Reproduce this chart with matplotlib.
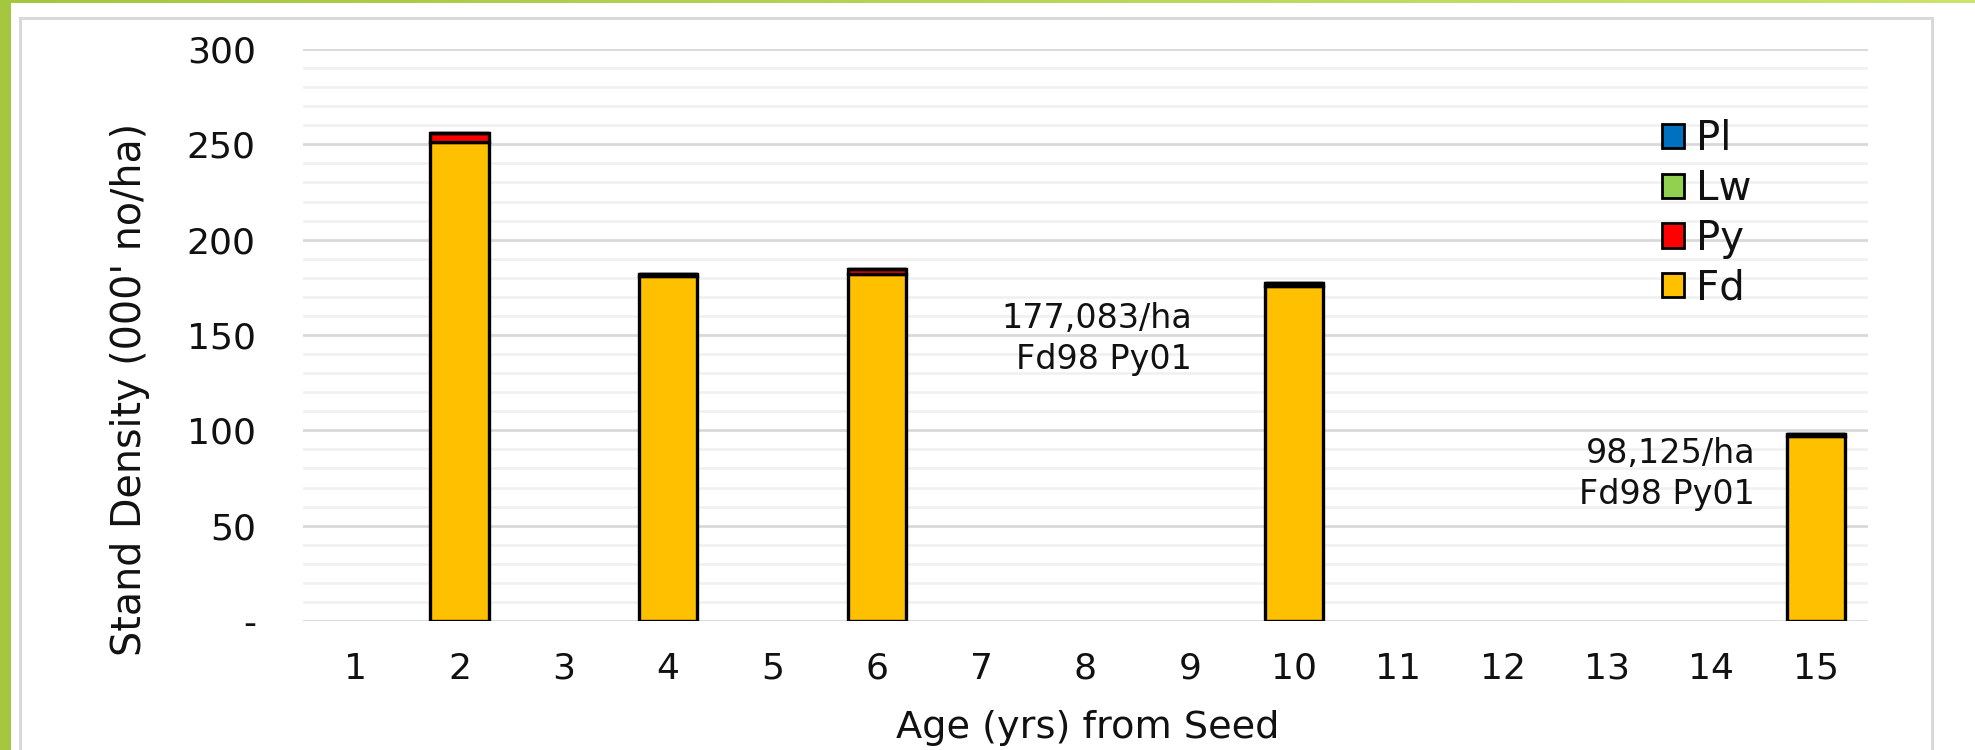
import numpy as np
import matplotlib
matplotlib.use("Agg")
import matplotlib.pyplot as plt
from matplotlib.patches import Rectangle, Patch
from matplotlib.ticker import MultipleLocator

# age classes on the x axis, and the survey years that have counts
ages = list(range(1, 16))
survey_ages = [2, 4, 6, 10, 15]

# stand density by species, thousands of stems per ha
fd = [251.2, 180.8, 182.2, 175.9, 97.1]
py = [4.7, 1.2, 2.5, 1.2, 1.0]
lw = [0, 0, 0, 0, 0]
pl = [0, 0, 0, 0, 0]

species = ["Pl", "Lw", "Py", "Fd"]
colours = {"Pl": "#0070C0", "Lw": "#92D050", "Py": "#FF0000", "Fd": "#FFC000"}

yticks = [0, 50, 100, 150, 200, 250, 300]
ytick_labels = ["-", "50", "100", "150", "200", "250", "300"]

notes = [(9.02, 148, "177,083/ha\nFd98 Py01"),
         (14.42, 77, "98,125/ha\nFd98 Py01")]

plt.rcParams["font.family"] = ["DejaVu Sans"]

W, H = 1975, 750
fig = plt.figure(figsize=(W / 100, H / 100), dpi=100)
fig.patch.set_facecolor("white")

# green frame: solid strip on the left, gradient strip along the top
fig.patches.append(Rectangle((0, 0), 11 / W, 1, transform=fig.transFigure,
                             facecolor="#a5c73f", edgecolor="none", zorder=0))
top = fig.add_axes([0, 1 - 3 / H, 1, 3 / H])
grad = np.linspace(0, 1, 256)[None, :]
top.imshow(grad, aspect="auto",
           cmap=matplotlib.colors.LinearSegmentedColormap.from_list("g", ["#a5c73f", "#cbe36f"]))
top.axis("off")

# light grey chart area border
fig.patches.append(Rectangle((19.5 / W, -0.05), (1932 - 19.5) / W, 1.05 - 17.5 / H,
                             transform=fig.transFigure, facecolor="none",
                             edgecolor="#d9d9d9", lw=2.2, zorder=1))

x0, x1, y0, y1 = 303, 1868, 49, 621
ax = fig.add_axes([x0 / W, 1 - y1 / H, (x1 - x0) / W, (y1 - y0) / H])

bottom = np.zeros(len(survey_ages))
stack = {"Fd": fd, "Py": py, "Lw": lw, "Pl": pl}
for name in ["Fd", "Py", "Lw", "Pl"]:
    vals = np.array(stack[name], dtype=float)
    ax.bar(survey_ages, vals, bottom=bottom, width=0.56, color=colours[name],
           edgecolor="black", linewidth=2.4, zorder=3)
    bottom += vals

ax.set_xlim(0.5, 15.5)
ax.set_ylim(0, 300)
ax.set_xticks(ages)
ax.set_xticklabels([str(a) for a in ages])
ax.set_yticks(yticks)
ax.set_yticklabels(ytick_labels)
ax.yaxis.set_minor_locator(MultipleLocator(10))
ax.grid(which="minor", axis="y", color="#f0f0f0", lw=1.8, zorder=0)
ax.grid(which="major", axis="y", color="#d9d9d9", lw=2.0, zorder=1)
ax.set_axisbelow(True)
for s in ax.spines.values():
    s.set_visible(False)
ax.tick_params(axis="both", which="both", length=0, labelcolor="#111111")
ax.tick_params(axis="y", pad=34, labelsize=26)
ax.tick_params(axis="x", pad=22, labelsize=26)

ax.set_xlabel("Age (yrs) from Seed", fontsize=27.5, va="center", color="#111111")
ax.xaxis.set_label_coords(0.5016, -0.187)
ax.set_ylabel("Stand Density (000' no/ha)", fontsize=28.5, va="center", color="#111111")
ax.yaxis.set_label_coords(-0.1105, 0.405)

for xn, yn, txt in notes:
    ax.text(xn, yn, txt, ha="right", va="center", multialignment="right",
            fontsize=24, linespacing=1.3, color="#111111", zorder=4)

handles = [Patch(facecolor=colours[s], edgecolor="black", linewidth=2.0, label=s)
           for s in species]
leg = ax.legend(handles=handles, loc="upper left", bbox_to_anchor=(0.858, 0.905),
                frameon=False, fontsize=29, handlelength=0.55, handleheight=0.55,
                handletextpad=0.3, labelspacing=0.24, borderaxespad=0)
for t in leg.get_texts():
    t.set_color("#111111")

fig.savefig("out.png", dpi=100)
